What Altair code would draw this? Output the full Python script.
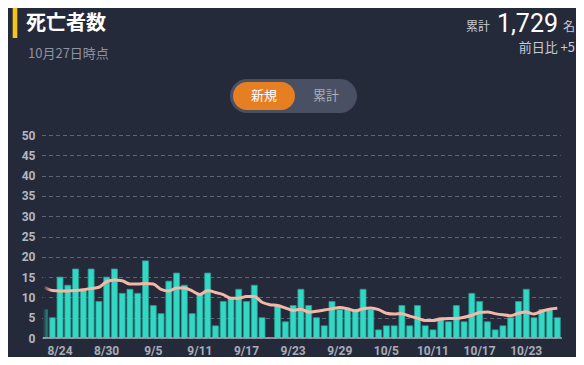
import altair as alt
import pandas as pd

# ---- data ----
dates = [f"{d.month}/{d.day}" for d in pd.date_range("2020-08-22", "2020-10-27")]
deaths = [7, 5, 15, 13, 17, 12, 17, 9, 15, 17,
          11, 12, 11, 19, 8, 6, 14, 16, 13, 6,
          11, 16, 3, 9, 10, 12, 9, 13, 5, 0,
          8, 4, 8, 12, 8, 5, 3, 9, 7, 7,
          7, 12, 7, 2, 3, 3, 8, 3, 8, 3,
          2, 5, 4, 8, 4, 11, 9, 4, 2, 3,
          5, 9, 12, 5, 7, 7, 5]
avg7 = [12.5, 11.7, 11.6, 11.6, 11.7, 11.9, 12.2, 12.5, 13.9, 14.3,
        14.1, 13.3, 13.3, 13.4, 13.3, 12.0, 11.6, 12.3, 12.3, 11.6,
        10.7, 11.7, 11.2, 10.7, 9.8, 9.8, 10.2, 10.2, 8.8, 8.2,
        8.0, 7.4, 6.8, 7.1, 6.4, 6.6, 6.9, 7.2, 7.5, 7.2,
        6.7, 7.2, 7.4, 7.0, 6.1, 5.9, 6.0, 5.4, 4.9, 4.3,
        4.3, 4.7, 4.8, 4.8, 5.1, 5.6, 6.3, 6.4, 6.0, 5.7,
        5.5, 6.1, 6.4, 5.9, 6.6, 7.1, 7.3]
tick_labels = ["8/24", "8/30", "9/5", "9/11", "9/17", "9/23", "9/29",
               "10/5", "10/11", "10/17", "10/23"]
y_ticks = [0, 5, 10, 15, 20, 25, 30, 35, 40, 45, 50]

df = pd.DataFrame({"date": dates, "deaths": deaths, "avg": avg7})
one = pd.DataFrame({"k": [0]})

BG = "#252a3b"
W, H = 519, 203
X0, Y0 = 43, 135  # page position of the plot origin

x_enc = alt.X(
    "date:O", sort=None,
    scale=alt.Scale(range=[-1.5, 517.3], paddingInner=0.23, paddingOuter=0),
    axis=alt.Axis(values=tick_labels, title=None, labelAngle=0, ticks=False,
                  domain=False, grid=False, labelPadding=7, labelColor="#a9adb7",
                  labelFont="Roboto", labelFontSize=12, labelFontWeight="bold"),
)
y_axis = alt.Axis(values=y_ticks, title=None, domain=False, ticks=False,
                  labelPadding=8, gridDash=[4, 3], gridColor="#5e6476",
                  gridWidth=1, labelColor="#b3b7c0", labelFont="Roboto",
                  labelFontSize=12, labelFontWeight="bold")
y_scale = alt.Scale(domain=[0, 50], nice=False)

bars = alt.Chart(df).mark_bar(
    color="#33d8c5", stroke="#2a9b91", strokeWidth=0.8, clip=True
).encode(x=x_enc, y=alt.Y("deaths:Q", scale=y_scale, axis=y_axis))

line = alt.Chart(df).mark_line(
    color="#f6b7a7", strokeWidth=3, interpolate="monotone"
).encode(x=x_enc, y=alt.Y("avg:Q", scale=y_scale, axis=y_axis))

fade = alt.Chart(one).mark_rect(
    color=alt.Gradient(
        gradient="linear",
        stops=[alt.GradientStop(offset=0, color=BG),
               alt.GradientStop(offset=1, color="rgba(37,42,59,0)")],
        x1=0, x2=1, y1=0, y2=0)
).encode(x=alt.value(0), x2=alt.value(8), y=alt.value(130), y2=alt.value(H - 1))

baseline = alt.Chart(one).mark_rule(color="#a4a8b2", strokeWidth=1.5).encode(
    x=alt.value(0), x2=alt.value(W), y=alt.value(H))


def txt(text, X, Y, size, color, weight="normal", align="left",
        baseline="alphabetic", font="Noto Sans CJK JP"):
    return alt.Chart(one).mark_text(
        text=text, fontSize=size, color=color, fontWeight=weight,
        align=align, baseline=baseline, font=font
    ).encode(x=alt.value(X - X0), y=alt.value(Y - Y0))


def box(xa, xb, ya, yb, color, radius=0):
    return alt.Chart(one).mark_rect(color=color, cornerRadius=radius).encode(
        x=alt.value(xa - X0), x2=alt.value(xb - X0),
        y=alt.value(ya - Y0), y2=alt.value(yb - Y0))


header = [
    box(12.7, 17.3, 6, 38, "#f5c518"),
    txt("死亡者数", 26, 30, 20, "#ffffff", weight="bold"),
    txt("10月27日時点", 28, 57.5, 13, "#8d93a2"),
    txt("累計", 490, 31, 12, "#c8cbd3", align="right"),
    txt("1,729", 558, 32, 25, "#ffffff", align="right", font="Roboto"),
    txt("名", 575, 31, 12, "#c8cbd3", align="right"),
    txt("前日比 +5", 575, 52, 13, "#c8cbd3", align="right"),
    box(230, 357, 79, 113, "#4a5063", 17),
    box(233, 295, 82, 110, "#e67e22", 14),
    txt("新規", 264, 96, 13, "#ffffff", align="center", baseline="middle"),
    txt("累計", 326, 96, 13, "#a9aeb9", align="center", baseline="middle"),
]

chart = alt.layer(bars, line, fade, baseline, *header).properties(
    width=W, height=H,
    padding={"left": 35, "top": 127, "right": 14, "bottom": 19},
    autosize=alt.AutoSizeParams(type="none"),
).configure(background=BG, font="Roboto").configure_view(strokeWidth=0)

chart.save("out.html", embed_options={"renderer": "svg", "actions": False})
